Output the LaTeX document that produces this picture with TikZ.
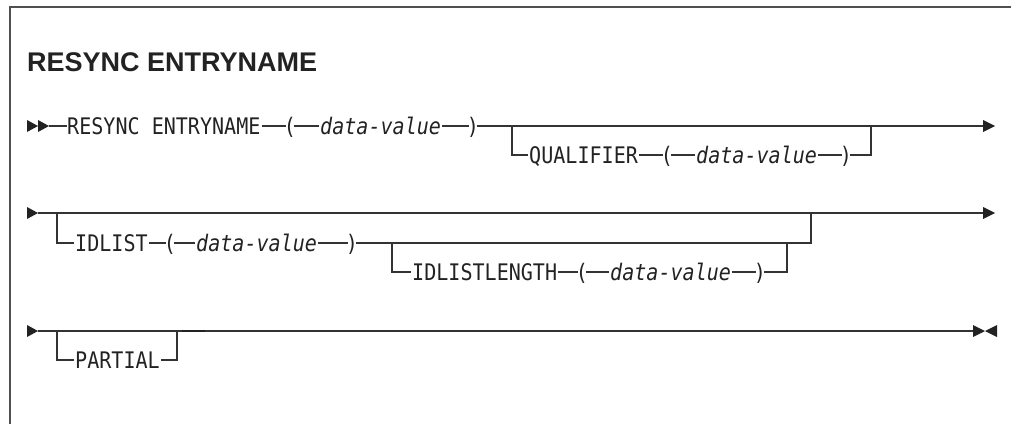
\documentclass[tikz,border=0pt]{standalone}
\usepackage{fontspec}
\setmainfont{Liberation Sans}
\newfontfamily\railfont{DejaVu Sans Mono}[FakeStretch=0.88]
\definecolor{ink}{HTML}{222222}
\definecolor{railc}{HTML}{333333}
\definecolor{framec}{HTML}{505050}
\begin{document}
\begin{tikzpicture}[x=1pt,y=-1pt,
  kw/.style={anchor=west,inner sep=0pt,text height=16.6pt,text depth=0pt,
    font=\railfont\fontsize{22.8}{26}\selectfont,text=ink},
  var/.style={kw,font=\railfont\itshape\fontsize{22.8}{26}\selectfont},
  paren/.style={kw,anchor=center,inner xsep=-3.5pt},
  rail/.style={draw=railc,line width=1.2pt},
  tip/.style={fill=ink}]
\useasboundingbox (0,0) rectangle (1011,424);
% frame
\draw[framec,line width=2pt] (10,424) -- (10,7) -- (1011,7);
% title
\node[anchor=base west,inner sep=0pt,text=ink,font=\bfseries\fontsize{27}{31}\selectfont] (title) at (27,71) {RESYNC ENTRYNAME};

% ---------- row 1 ----------
\coordinate (a1) at (49,126);
\coordinate (b1) at (512,126);
\coordinate (j1) at (871,126);
\coordinate (e1) at (983,126);
\fill[tip] (27,120) -- (38,126) -- (27,132) -- cycle;
\fill[tip] (38,120) -- (49,126) -- (38,132) -- cycle;
\fill[tip] (983,120) -- (995,126) -- (983,132) -- cycle;
\node[kw] (kw1) at (67,126) {RESYNC ENTRYNAME};
\node[paren] (lp1) at (290,126) {(};
\node[var] (dv1) at (320,126) {data-value};
\node[paren] (rp1) at (473,126) {)};
\node[kw] (q) at (529,155) {QUALIFIER};
\node[paren] (lp2) at (667,155) {(};
\node[var] (dv2) at (696,155) {data-value};
\node[paren] (rp2) at (846,155) {)};
\draw[rail] (a1) -- (kw1.west);
\draw[rail] ([xshift=1pt]kw1.east) -- ([xshift=-1pt]lp1.west);
\draw[rail] ([xshift=1pt]lp1.east) -- ([xshift=-1pt]dv1.west);
\draw[rail] ([xshift=1pt]dv1.east) -- ([xshift=-1pt]rp1.west);
\draw[rail] ([xshift=1pt]rp1.east) -- (e1);
\draw[rail] (b1) |- ([xshift=-1pt]q.west);
\draw[rail] ([xshift=1pt]q.east) -- ([xshift=-1pt]lp2.west);
\draw[rail] ([xshift=1pt]lp2.east) -- ([xshift=-1pt]dv2.west);
\draw[rail] ([xshift=1pt]dv2.east) -- ([xshift=-1pt]rp2.west);
\draw[rail] ([xshift=1pt]rp2.east) -| (j1);

% ---------- row 2 ----------
\coordinate (a2) at (38,213);
\coordinate (b2) at (57,213);
\coordinate (j2) at (811,213);
\coordinate (e2) at (983,213);
\coordinate (b3) at (392,243);
\coordinate (j3) at (787,243);
\fill[tip] (27,207) -- (38,213) -- (27,219) -- cycle;
\fill[tip] (983,207) -- (995,213) -- (983,219) -- cycle;
\node[kw] (id) at (75,243) {IDLIST};
\node[paren] (lp3) at (170,243) {(};
\node[var] (dv3) at (196,243) {data-value};
\node[paren] (rp3) at (352,243) {)};
\node[kw] (il) at (412,272) {IDLISTLENGTH};
\node[paren] (lp4) at (582,272) {(};
\node[var] (dv4) at (610,272) {data-value};
\node[paren] (rp4) at (760,272) {)};
\draw[rail] (a2) -- (e2);
\draw[rail] (b2) |- ([xshift=-1pt]id.west);
\draw[rail] ([xshift=1pt]id.east) -- ([xshift=-1pt]lp3.west);
\draw[rail] ([xshift=1pt]lp3.east) -- ([xshift=-1pt]dv3.west);
\draw[rail] ([xshift=1pt]dv3.east) -- ([xshift=-1pt]rp3.west);
\draw[rail] ([xshift=1pt]rp3.east) -| (j2);
\draw[rail] (b3) |- ([xshift=-1pt]il.west);
\draw[rail] ([xshift=1pt]il.east) -- ([xshift=-1pt]lp4.west);
\draw[rail] ([xshift=1pt]lp4.east) -- ([xshift=-1pt]dv4.west);
\draw[rail] ([xshift=1pt]dv4.east) -- ([xshift=-1pt]rp4.west);
\draw[rail] ([xshift=1pt]rp4.east) -| (j3);

% ---------- row 3 ----------
\coordinate (a3) at (38,331);
\coordinate (b4) at (57,331);
\coordinate (j4) at (177,331);
\coordinate (e3) at (973,331);
\fill[tip] (27,325) -- (38,331) -- (27,337) -- cycle;
\fill[tip] (973,325) -- (985,331) -- (973,337) -- cycle;
\fill[tip] (997,325) -- (985,331) -- (997,337) -- cycle;
\node[kw] (pa) at (75,360) {PARTIAL};
\draw[rail] (a3) -- (e3);
\draw[rail] (b4) |- ([xshift=-1pt]pa.west);
\draw[rail] ([xshift=1pt]pa.east) -| (j4);
\draw[draw=ink,line width=2pt] (182,331) -- (205,331);
\end{tikzpicture}
\end{document}
